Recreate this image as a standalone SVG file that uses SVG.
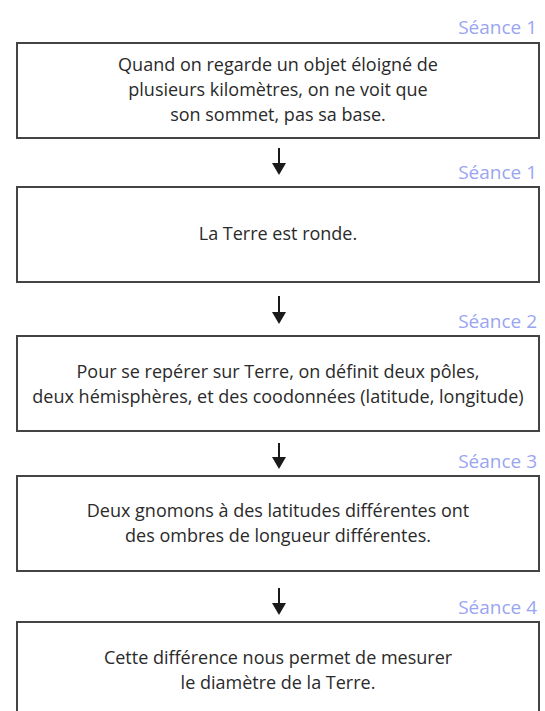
<svg xmlns="http://www.w3.org/2000/svg" width="545" height="711" viewBox="0 0 545 711">
  <style>
    .box { fill: #ffffff; stroke: #444444; stroke-width: 2; }
    .txt { font-family: "Open Sans", "Noto Sans", sans-serif; font-size: 18px; fill: #2a2a2a; text-anchor: middle; }
    .lbl { font-family: "Open Sans", "Noto Sans", sans-serif; font-size: 19px; fill: #9aa5f2; text-anchor: end; }
    .conn { stroke: #1a1a1a; stroke-width: 2; fill: none; marker-end: url(#head); }
  </style>
  <defs>
    <marker id="head" viewBox="0 0 12 14" refX="0" refY="7" markerWidth="12" markerHeight="14" markerUnits="userSpaceOnUse" orient="auto">
      <path d="M0,0 L12,7 L0,14 Z" fill="#1a1a1a"/>
    </marker>
  </defs>
  <rect width="545" height="711" fill="#ffffff"/>

  <g id="node1">
    <text class="lbl" x="537" y="34">Séance 1</text>
    <rect class="box" x="17" y="43" width="522" height="95"/>
    <text class="txt" x="278" y="71">Quand on regarde un objet éloigné de</text>
    <text class="txt" x="278" y="96">plusieurs kilomètres, on ne voit que</text>
    <text class="txt" x="278" y="121">son sommet, pas sa base.</text>
  </g>

  <g id="node2">
    <text class="lbl" x="537" y="179">Séance 1</text>
    <rect class="box" x="17" y="187" width="522" height="95"/>
    <text class="txt" x="278" y="240">La Terre est ronde.</text>
  </g>

  <g id="node3">
    <text class="lbl" x="537" y="328">Séance 2</text>
    <rect class="box" x="17" y="336" width="522" height="95"/>
    <text class="txt" x="278" y="378">Pour se repérer sur Terre, on définit deux pôles,</text>
    <text class="txt" x="278" y="403">deux hémisphères, et des coodonnées (latitude, longitude)</text>
  </g>

  <g id="node4">
    <text class="lbl" x="537" y="468">Séance 3</text>
    <rect class="box" x="17" y="476" width="522" height="95"/>
    <text class="txt" x="278" y="517">Deux gnomons à des latitudes différentes ont</text>
    <text class="txt" x="278" y="542">des ombres de longueur différentes.</text>
  </g>

  <g id="node5">
    <text class="lbl" x="537" y="614">Séance 4</text>
    <rect class="box" x="17" y="622" width="522" height="95"/>
    <text class="txt" x="278" y="664">Cette différence nous permet de mesurer</text>
    <text class="txt" x="278" y="689">le diamètre de la Terre.</text>
  </g>

  <g id="connectors">
    <path class="conn" d="M279,148 L279,163"/>
    <path class="conn" d="M279,296 L279,312"/>
    <path class="conn" d="M279,443 L279,457"/>
    <path class="conn" d="M279,588 L279,603"/>
  </g>
</svg>
